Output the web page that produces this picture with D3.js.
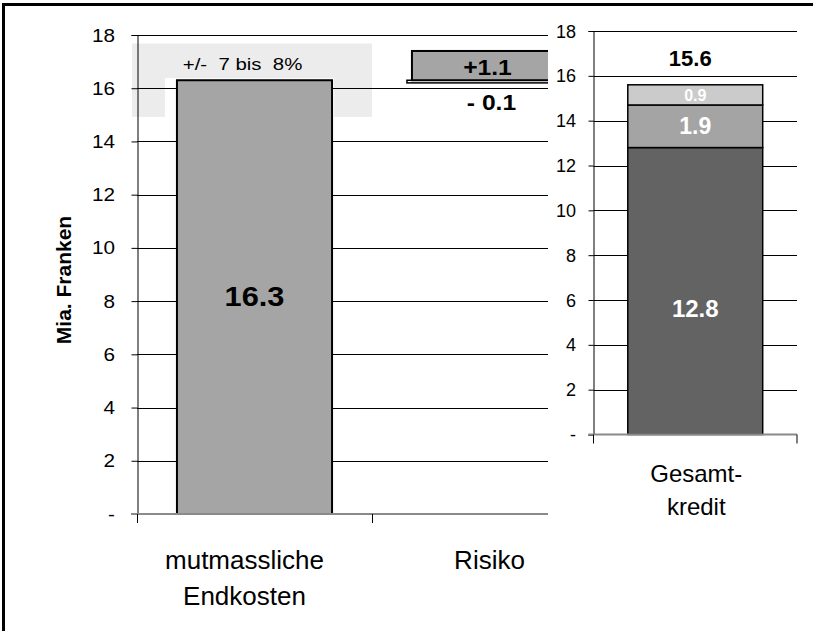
<!DOCTYPE html>
<html>
<head>
<meta charset="utf-8">
<script src="https://cdn.jsdelivr.net/npm/d3@7/dist/d3.min.js"></script>
<style>
  html, body { margin: 0; padding: 0; background: #fff; }
  svg { display: block; font-family: Arial, "Liberation Sans", sans-serif; }
  text { white-space: pre; }
</style>
</head>
<body>
<svg id="chart" width="813" height="631"></svg>
<script>
// ---- data ----
const categories = ["mutmassliche Endkosten", "Risiko"];
const categoryLines = [["mutmassliche", "Endkosten"], ["Risiko"]];
const estimate = 16.3;                 // mutmassliche Endkosten, Mia. Franken
const tolerance = [0.07, 0.08];        // +/- 7 bis 8%
const riskUp = 1.1;                    // Risiko nach oben
const riskDown = 0.1;                  // Risiko nach unten
const creditCategory = ["Gesamtkredit"];
const creditLines = [["Gesamt-", "kredit"]];
const creditParts = [12.8, 1.9, 0.9];  // Gesamtkredit, gestapelt
const creditTotal = 15.6;
const yTickValues = [0, 2, 4, 6, 8, 10, 12, 14, 16, 18];
const fmtTick = v => v === 0 ? "-" : String(v);

// ---- styles ----
const partFill = ["#636363", "#a4a4a4", "#cbcbcb"];
const barGray = "#a5a5a5";
const bandGray = "#ececec";
const axisGray = "#8a8a8a";

const svg = d3.select("#chart");

// text helper; the left panel's lettering is drawn slightly wider
function label(g, x, y, txt, opts) {
  const o = Object.assign({size: 16, weight: "normal", fill: "#000", anchor: "middle", sx: 1}, opts || {});
  return g.append("text")
    .attr("transform", `translate(${x},${y}) scale(${o.sx},1)`)
    .attr("text-anchor", o.anchor)
    .attr("font-size", o.size)
    .attr("font-weight", o.weight)
    .attr("fill", o.fill)
    .text(txt);
}

// ================= left panel =================
const L = {x0: 137, x1: 607, clip: 548, y0: 514, y1: 35};
const left = svg.append("g");
const yL = d3.scaleLinear().domain([0, 18]).range([L.y0, L.y1]);
const xL = d3.scaleBand().domain(categories).range([L.x0, L.x1]).padding(0);
const barW = xL.bandwidth() * 0.66;
const barX = c => xL(c) + (xL.bandwidth() - barW) / 2;

// tolerance band around the estimate
const bandTop = yL(estimate * (1 + tolerance[1])) - 2;
const bandBot = yL(estimate * (1 - tolerance[1])) + 2;
const c0 = categories[0];
left.append("rect")
  .attr("x", L.x0 - 5).attr("y", bandTop)
  .attr("width", xL(categories[1]) - (L.x0 - 5)).attr("height", bandBot - bandTop)
  .attr("fill", bandGray);
left.append("rect")
  .attr("x", barX(c0) - 12).attr("y", yL(estimate) - 2)
  .attr("width", barW + 14).attr("height", bandBot - yL(estimate) + 2)
  .attr("fill", "#fff");

// gridlines + y axis
left.selectAll("line.grid").data(yTickValues.filter(v => v > 0)).join("line")
  .attr("x1", L.x0).attr("x2", L.clip)
  .attr("y1", d => Math.round(yL(d)) + 0.5).attr("y2", d => Math.round(yL(d)) + 0.5)
  .attr("stroke", "#000").attr("stroke-width", 1);
const axL = left.append("g").attr("transform", `translate(${L.x0 + 0.5},0)`)
  .call(d3.axisLeft(yL).tickValues(yTickValues).tickFormat("").tickSizeOuter(0).tickSize(6));
axL.select(".domain").attr("stroke", "#000");
axL.selectAll(".tick line").attr("stroke", "#000");
yTickValues.forEach(v => {
  label(left, 115, yL(v) + 6.5, fmtTick(v), {size: 18, anchor: "end", sx: 1.15});
});

// bars
left.append("rect")
  .attr("x", barX(c0)).attr("y", yL(estimate))
  .attr("width", barW).attr("height", yL(0) - yL(estimate))
  .attr("fill", barGray).attr("stroke", "#000").attr("stroke-width", 2);

const c1 = categories[1];
// downward risk: thin white segment just below the estimate
left.append("rect")
  .attr("x", barX(c1) - 5).attr("y", yL(estimate))
  .attr("width", barW + 10).attr("height", yL(estimate - riskDown) - yL(estimate))
  .attr("fill", "#fff").attr("stroke", "#000").attr("stroke-width", 1.5);
// upward risk
left.append("rect")
  .attr("x", barX(c1)).attr("y", yL(estimate + riskUp))
  .attr("width", barW).attr("height", yL(estimate) - yL(estimate + riskUp))
  .attr("fill", barGray).attr("stroke", "#000").attr("stroke-width", 2);

// zero line and category ticks
left.append("line")
  .attr("x1", L.x0 - 6).attr("x2", L.clip).attr("y1", L.y0).attr("y2", L.y0)
  .attr("stroke", axisGray).attr("stroke-width", 2);
left.selectAll("line.cat").data([L.x0, xL(c1)]).join("line")
  .attr("x1", d => d + 0.5).attr("x2", d => d + 0.5).attr("y1", L.y0).attr("y2", L.y0 + 9)
  .attr("stroke", "#000");

// value labels
label(left, (xL(c0) + xL(c1)) / 2 - 12, 70,
  `+/-  ${Math.round(tolerance[0] * 100)} bis  ${Math.round(tolerance[1] * 100)}%`, {size: 17, sx: 1.2});
label(left, barX(c0) + barW / 2, yL(estimate / 2) + 9, String(estimate), {size: 27, weight: "bold", sx: 1.14});
label(left, barX(c1) + barW / 2 - 2, 75, "+" + riskUp, {size: 22, weight: "bold", sx: 1.12});
label(left, barX(c1) + barW / 2 + 2, 110, "- " + riskDown, {size: 22, weight: "bold", sx: 1.12});

// category labels
const catShift = [-10, 0];
categoryLines.forEach((lines, i) => {
  const cx = xL(categories[i]) + xL.bandwidth() / 2 + catShift[i];
  lines.forEach((t, j) => label(left, cx, 569 + j * 36, t, {size: 26}));
});

// y axis title
left.append("text")
  .attr("transform", "translate(71,280) rotate(-90)")
  .attr("text-anchor", "middle").attr("font-size", 21).attr("font-weight", "bold")
  .text("Mia. Franken");

// ================= right panel =================
const right = svg.append("g");
right.append("rect").attr("x", L.clip).attr("y", 6).attr("width", 813 - L.clip).attr("height", 625).attr("fill", "#fff");
const R = {x0: 593.5, x1: 797, y0: 434.5, y1: 31};
const yR = d3.scaleLinear().domain([0, 18]).range([R.y0, R.y1]);
const xR = d3.scaleBand().domain(creditCategory).range([R.x0, R.x1]).padding(0);
const rW = xR.bandwidth() * 0.663;
const rX = xR(creditCategory[0]) + (xR.bandwidth() - rW) / 2;

right.selectAll("line.grid").data(yTickValues.filter(v => v > 0)).join("line")
  .attr("x1", R.x0).attr("x2", R.x1)
  .attr("y1", d => Math.round(yR(d)) + 0.5).attr("y2", d => Math.round(yR(d)) + 0.5)
  .attr("stroke", "#000");
const axR = right.append("g").attr("transform", `translate(${R.x0},0)`)
  .call(d3.axisLeft(yR).tickValues(yTickValues).tickFormat("").tickSizeOuter(0).tickSize(5));
axR.select(".domain").attr("stroke", "#000");
yTickValues.forEach(v => {
  label(right, 576, yR(v) + 6.5, fmtTick(v), {size: 18, anchor: "end"});
});

// stacked credit bar
const stack = [];
creditParts.reduce((acc, v, i) => { stack.push({v, i, lo: acc, hi: acc + v}); return acc + v; }, 0);
right.selectAll("rect.part").data(stack).join("rect")
  .attr("x", rX).attr("y", d => yR(d.hi))
  .attr("width", rW).attr("height", d => yR(d.lo) - yR(d.hi))
  .attr("fill", d => partFill[d.i]).attr("stroke", "#000").attr("stroke-width", 1.5);

right.append("line")
  .attr("x1", R.x0 - 5).attr("x2", R.x1).attr("y1", R.y0).attr("y2", R.y0)
  .attr("stroke", axisGray).attr("stroke-width", 2);
right.selectAll("line.cat").data([R.x0, R.x1]).join("line")
  .attr("x1", d => d).attr("x2", d => d).attr("y1", R.y0).attr("y2", R.y0 + 9)
  .attr("stroke", "#000");

const partSize = [24, 23, 16];
const partDy = [26, 8, 6];
stack.forEach(d => {
  label(right, rX + rW / 2, yR((d.lo + d.hi) / 2) + partDy[d.i], String(d.v), {size: partSize[d.i], weight: "bold", fill: "#fff"});
});
label(right, rX + rW / 2 - 5, yR(creditTotal) - 19, String(creditTotal), {size: 22, weight: "bold"});

creditLines[0].forEach((t, j) => label(right, rX + rW / 2 + 1, 482 + j * 33, t, {size: 24}));

// ================= frame =================
svg.append("line").attr("x1", 3.5).attr("x2", 3.5).attr("y1", 3).attr("y2", 631).attr("stroke", "#000").attr("stroke-width", 3);
svg.append("line").attr("x1", 2).attr("x2", 813).attr("y1", 4.5).attr("y2", 4.5).attr("stroke", "#000").attr("stroke-width", 3);
</script>
</body>
</html>
